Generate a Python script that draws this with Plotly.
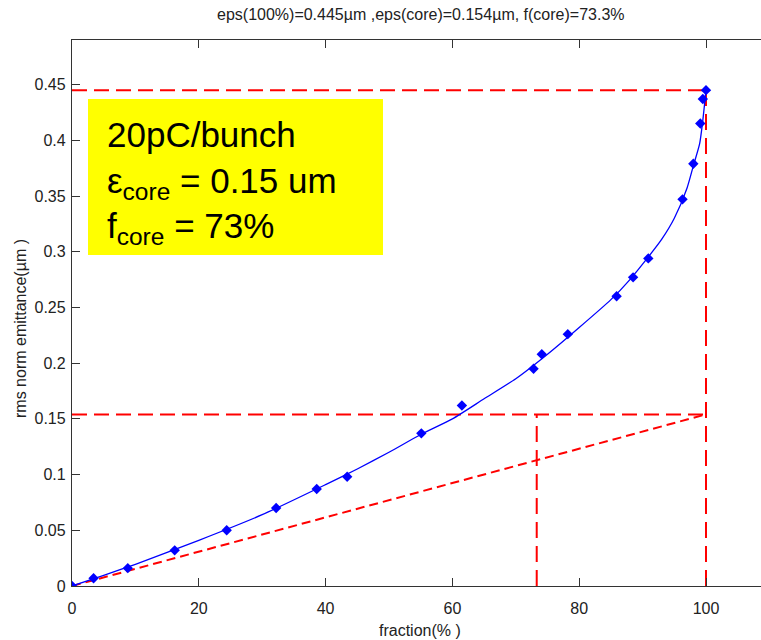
import plotly.graph_objects as go

# Measured rms normalised emittance vs. beam fraction (20 pC/bunch)
fraction_pct = [0, 3.4, 8.8, 16.2, 24.4, 32.2, 38.6, 43.4, 55.1, 61.5, 72.8,
                74.1, 78.2, 85.9, 88.5, 90.9, 96.3, 98.0, 99.1, 99.5, 100]
emittance_um = [0, 0.007, 0.016, 0.032, 0.050, 0.070, 0.087, 0.098, 0.137,
                0.162, 0.195, 0.208, 0.226, 0.260, 0.277, 0.294, 0.347,
                0.379, 0.415, 0.437, 0.445]

# Smooth fit through the measurements
fit_fraction = [0, 5, 10, 20, 30, 40, 45, 50, 55, 60, 65, 70, 75, 80, 85,
                88, 91, 93, 95, 97, 98, 99, 99.5, 100]
fit_emittance = [0, 0.0095, 0.0195, 0.041, 0.064, 0.091, 0.105, 0.120, 0.136,
                 0.150, 0.168, 0.186, 0.208, 0.232, 0.257, 0.275, 0.296,
                 0.311, 0.330, 0.357, 0.377, 0.397, 0.418, 0.445]

# Summary quantities
eps_full = 0.445    # emittance of 100% of the beam (um)
eps_core = 0.154    # core emittance (um)
f_core = 73.3       # core fraction (%)

x_ticks = [0, 20, 40, 60, 80, 100]
y_ticks = [0, 0.05, 0.1, 0.15, 0.2, 0.25, 0.3, 0.35, 0.4, 0.45]
y_tick_text = ["0", "0.05", "0.1", "0.15", "0.2", "0.25", "0.3", "0.35", "0.4", "0.45"]

RED = "#ff0000"
BLUE = "#0000ff"
FONT = "Liberation Sans, Arial, sans-serif"

fig = go.Figure()

# Construction lines for the core-emittance definition
guides = [
    ([0, 100], [eps_full, eps_full], "15px,7px"),
    ([100, 100], [0, eps_full], "16px,8px"),
    ([0, 100], [eps_core, eps_core], "15px,7px"),
    ([f_core, f_core], [0, eps_core], "16px,8px"),
    ([0, 100], [0, eps_core], "9px,5px"),
]
for gx, gy, dash in guides:
    fig.add_trace(go.Scatter(x=gx, y=gy, mode="lines",
                             line=dict(color=RED, width=2, dash=dash),
                             hoverinfo="skip", showlegend=False))

fig.add_trace(go.Scatter(x=fit_fraction, y=fit_emittance, mode="lines",
                         line=dict(color=BLUE, width=1.3, shape="spline", smoothing=0.6),
                         showlegend=False))
fig.add_trace(go.Scatter(x=fraction_pct, y=emittance_um, mode="markers",
                         marker=dict(symbol="diamond", size=8, color=BLUE),
                         showlegend=False))

L, T, B, W, H = 72, 40, 54, 761, 640
pw, ph = W - L, H - T - B


def px(xp):
    return (xp - L) / pw


def py(yp):
    return (H - B - yp) / ph


fig.update_layout(
    width=W, height=H,
    margin=dict(l=L, r=0, t=T, b=B),
    paper_bgcolor="white", plot_bgcolor="white",
    font=dict(family=FONT, size=16, color="#222222"),
    xaxis=dict(range=[0, pw / 6.34], tickvals=x_ticks, ticks="inside",
               ticklen=8, tickcolor="#333333", showline=True,
               linecolor="#333333", linewidth=1.3, mirror="ticks",
               showgrid=False, zeroline=False, ticklabelstandoff=8,
               tickfont=dict(size=16, family=FONT, color="#222222")),
    yaxis=dict(range=[0, 0.49], tickvals=y_ticks, ticktext=y_tick_text,
               ticks="inside", ticklen=8, tickcolor="#333333",
               showline=True, linecolor="#333333", linewidth=1.3,
               showgrid=False, zeroline=False, ticklabelstandoff=2,
               tickfont=dict(size=16, family=FONT, color="#222222")),
    shapes=[dict(type="rect", xref="paper", yref="paper",
                 x0=px(88), x1=px(383), y0=py(255), y1=py(99),
                 fillcolor="#ffff00", line=dict(width=0), layer="above")],
    annotations=[
        dict(text="eps(100%)=0.445µm ,eps(core)=0.154µm, f(core)=73.3%",
             xref="paper", yref="paper", x=px(421), y=py(15),
             xanchor="center", yanchor="middle", showarrow=False,
             font=dict(size=16, family=FONT, color="#222222")),
        dict(text="rms norm emittance(µm )", textangle=-90,
             xref="paper", yref="paper", x=px(20), y=py(329),
             xanchor="center", yanchor="middle", showarrow=False,
             font=dict(size=16, family=FONT, color="#222222")),
        dict(text="fraction(% )",
             xref="paper", yref="paper", x=px(420), y=py(630),
             xanchor="center", yanchor="middle", showarrow=False,
             font=dict(size=16, family=FONT, color="#222222")),
        dict(text="20pC/bunch<br>ε<sub>core</sub> = 0.15 um<br>f<sub>core</sub> = 73%",
             xref="paper", yref="paper", x=px(105), y=py(113),
             xanchor="left", yanchor="top", align="left", showarrow=False,
             font=dict(size=35, family=FONT, color="black")),
    ],
)

fig.write_html("out.html")
